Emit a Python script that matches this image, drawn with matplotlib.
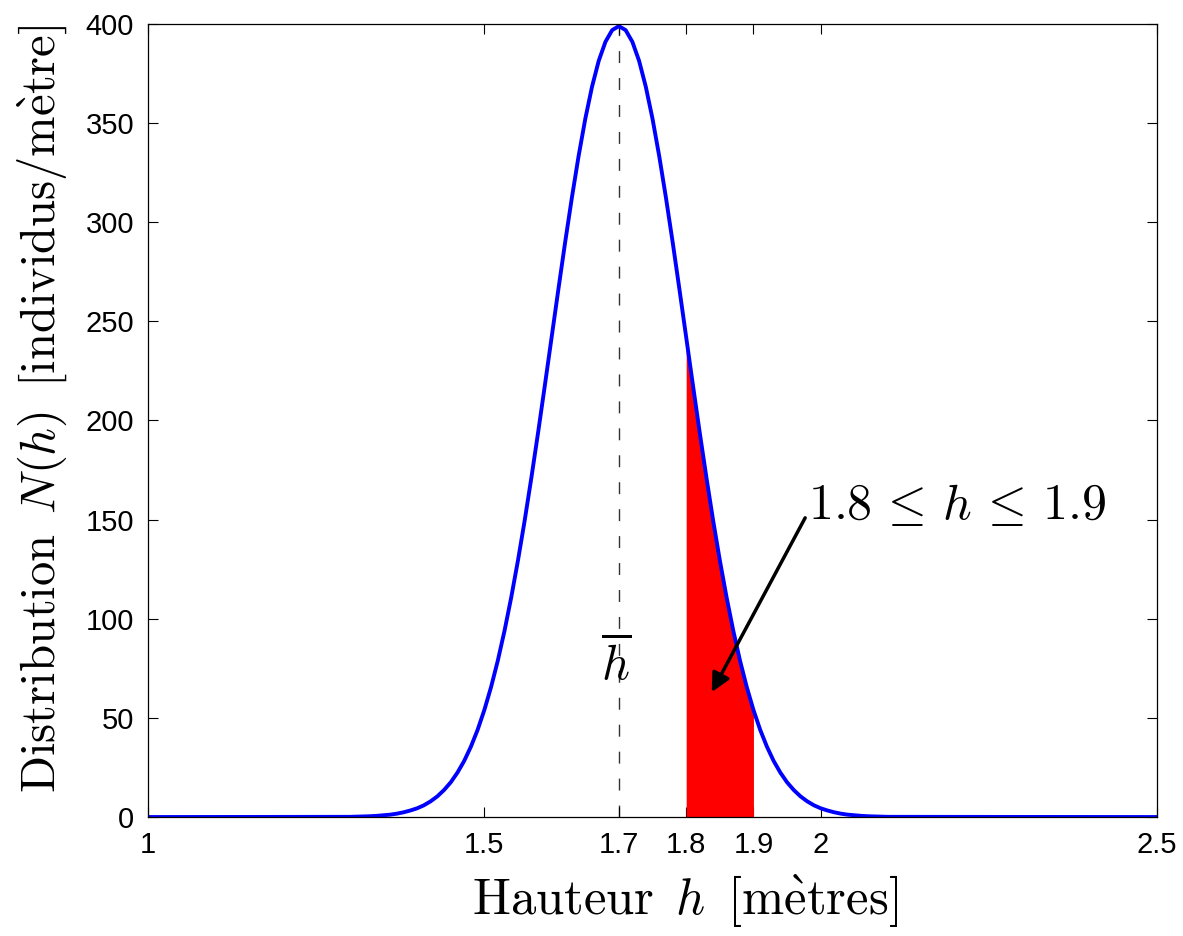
import numpy as np
import matplotlib.pyplot as plt

# distribution values, every 0.01 m from 1.30 to 2.10
n_left = [0.1, 0.2, 0.3, 0.4, 0.6, 0.9, 1.2, 1.7, 2.4, 3.3,
          4.4, 5.9, 7.9, 10.4, 13.6, 17.5, 22.4, 28.3, 35.5, 44.0,
          54.0, 65.6, 78.9, 94.0, 110.9, 129.5, 149.7, 171.4, 194.2, 217.9,
          242.0, 266.1, 289.7, 312.2, 333.2, 352.1, 368.3, 381.4, 391.0, 396.9]
n_peak = 398.9
n_vals = [0.0] + n_left + [n_peak] + n_left[::-1] + [0.0]
h_vals = [1.0] + list(np.round(np.linspace(1.30, 2.10, 81), 2)) + [2.5]

h_mean = 1.70
h_low, h_high = 1.80, 1.90
xticks = [1, 1.5, 1.7, 1.8, 1.9, 2, 2.5]
xtick_labels = ['1', '1.5', '1.7', '1.8', '1.9', '2', '2.5']
yticks = [0, 50, 100, 150, 200, 250, 300, 350, 400]

plt.rcParams['mathtext.fontset'] = 'cm'
plt.rcParams['font.family'] = ['Liberation Sans', 'DejaVu Sans']

h = np.array(h_vals)
n = np.array(n_vals)

fig = plt.figure(figsize=(11.83, 9.36), dpi=100)
ax = fig.add_axes([0.1251, 0.1271, 0.8530, 0.8473])

ax.plot(h, n, color='#0000ff', linewidth=2.8, zorder=4)

# shaded band
mask = (h >= h_low - 1e-9) & (h <= h_high + 1e-9)
ax.fill_between(h[mask], 0, n[mask], color='#ff0000', linewidth=0, zorder=3)

# mean line
ax.plot([h_mean, h_mean], [0, n_peak], color='#333333', linestyle=(0, (8.6, 10.8)),
        linewidth=1.0, zorder=1)
ax.text(h_mean - 0.004, 77, r'$\overline{h}$', fontsize=35, ha='center',
        va='center', zorder=5)

ax.annotate(r'$1.8\,\leq\,h\,\leq\,1.9$', xy=(1.838, 63), xytext=(1.981, 157),
            fontsize=36, ha='left', va='center',
            arrowprops=dict(arrowstyle='-|>', color='black', lw=2.5,
                            mutation_scale=28, shrinkA=0, shrinkB=0,
                            relpos=(0, 0.35)),
            zorder=6)

ax.set_xlim(1, 2.5)
ax.set_ylim(0, 400)
ax.set_xticks(xticks)
ax.set_xticklabels(xtick_labels)
ax.set_yticks(yticks)
ax.tick_params(direction='in', length=7, width=0.8, labelsize=21,
               top=True, right=True, pad=10)
for sp in ax.spines.values():
    sp.set_linewidth(0.9)
    sp.set_zorder(7)

ax.set_xlabel(r'$\mathrm{Hauteur}\ \,h\ \,[\mathrm{m\grave{e}tres}]$', fontsize=36.5,
              labelpad=10)
ax.set_ylabel(r'$\mathrm{Distribution}\ \,N(h)\ \,[\mathrm{individus/m\grave{e}tre}]$',
              fontsize=35, labelpad=12)
ax.xaxis.label.set_x(0.532)
ax.yaxis.label.set_y(0.515)

plt.savefig('out.png', dpi=100)
